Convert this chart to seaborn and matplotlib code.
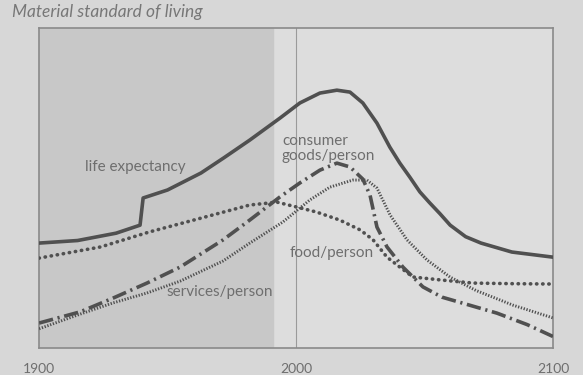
import matplotlib
matplotlib.use("Agg")
import matplotlib.pyplot as plt
import pandas as pd
import seaborn as sns

# values, 0-100 = bottom-top of the frame
life_years = [1900, 1915, 1930, 1939.3, 1940.5, 1950, 1963, 1972, 1982, 1993.8, 2001.5,
              2009.3, 2015.9, 2021, 2026, 2031.5, 2036.5, 2040.4, 2044.3, 2048.2, 2052,
              2056, 2060, 2066, 2072, 2084, 2100]
life_vals = [32.8, 33.6, 35.9, 38.4, 46.9, 49.4, 54.7, 59.5, 65, 71.9, 76.6,
             79.7, 80.6, 80, 76.6, 70.3, 62.8, 57.8, 53.4, 48.8, 45.4,
             42, 38.4, 34.8, 32.8, 30, 28.4]

food_years = [1900, 1924, 1943, 1963, 1982, 1992.6, 2001.6, 2008, 2017, 2025, 2030,
              2035.4, 2040.4, 2045.5, 2056, 2068.8, 2085, 2100]
food_vals = [28.1, 31.6, 36.3, 40.6, 44.7, 45.6, 43.8, 42.5, 40, 36.9, 33.8,
             28.4, 25.3, 22.2, 21.3, 20.3, 20.1, 20]

goods_years = [1900, 1916, 1928.8, 1942, 1954.9, 1971.6, 1982, 1993.7, 2001.5, 2009.3,
               2015.9, 2021, 2026, 2028.8, 2031.5, 2035.4, 2041.6, 2049.4, 2056.8,
               2078.2, 2090, 2100]
goods_vals = [7.8, 11.3, 15.6, 20.3, 25.3, 33.8, 40, 47.2, 51.6, 55.6,
              57.8, 56.6, 52.8, 47.8, 37.8, 31.6, 25.3, 19.1, 15.9,
              10.9, 7.3, 3.6]

services_years = [1900, 1916, 1928.8, 1942, 1954.9, 1971.6, 1982, 1994.9, 2005.4, 2013.2,
                  2022.1, 2027.6, 2031.5, 2036.6, 2043.2, 2051, 2059.9, 2070, 2084.4, 2100]
services_vals = [6, 10.6, 14.1, 17.2, 20.9, 27.2, 32.8, 39.4, 46.3, 50.3,
                 52.5, 52.5, 50, 41.6, 33.8, 27.5, 22.2, 18, 13.4, 9.4]

tick_years = [1900, 2000, 2100]
history_end = 1991

paper = "#d7d7d7"
ink = "#505050"
label_col = "#6e6e6e"

sns.set_theme(style="white")
plt.rcParams["font.family"] = ["Lato", "DejaVu Sans"]

fig = plt.figure(figsize=(5.83, 3.75), dpi=100, facecolor=paper)
ax = fig.add_axes([0.067, 0.072, 0.8815, 0.853])
ax.set_facecolor("#dddddd")

ax.axvspan(1900, history_end, color="#c8c8c8", zorder=0)
ax.axvline(2000, color="#9a9a9a", lw=0.8, zorder=1)

series = [
    (life_years, life_vals, dict(linestyle="-", linewidth=2.6)),
    (food_years, food_vals, dict(linestyle=(0, (0.1, 1.6)), linewidth=2.6,
                                 dash_capstyle="round")),
    (goods_years, goods_vals, dict(linestyle=(0, (4, 1.3, 0.6, 1.3)), linewidth=2.6)),
    (services_years, services_vals, dict(linestyle=(0, (0.45, 0.55)), linewidth=2.1)),
]
for xs, ys, style in series:
    df = pd.DataFrame({"year": xs, "value": ys})
    sns.lineplot(data=df, x="year", y="value", ax=ax, color=ink, sort=False,
                 zorder=3, **style)

ax.text(1937.3, 56.6, "life expectancy", color=label_col, fontsize=11,
        ha="center", va="center")
ax.text(1994.5, 62.5, "consumer\ngoods/person", color=label_col, fontsize=11,
        ha="left", va="center", linespacing=1.1)
ax.text(2014, 29.7, "food/person", color=label_col, fontsize=11, ha="center", va="center")
ax.text(1970.4, 17.5, "services/person", color=label_col, fontsize=11,
        ha="center", va="center")

ax.set_xlim(1900, 2100)
ax.set_ylim(0, 100)
ax.set_xticks(tick_years)
ax.set_xticklabels([str(t) for t in tick_years], color=label_col, fontsize=10)
ax.set_yticks([])
ax.tick_params(axis="x", length=0, pad=11)
ax.set_xlabel("")
ax.set_ylabel("")
for s in ax.spines.values():
    s.set_color("#8a8a8a")
    s.set_linewidth(1.2)

fig.text(0.02, 0.968, "Material standard of living", fontsize=12.5, style="italic",
         color="#777777", ha="left", va="center")

fig.savefig("out.png", dpi=100, facecolor=paper)
